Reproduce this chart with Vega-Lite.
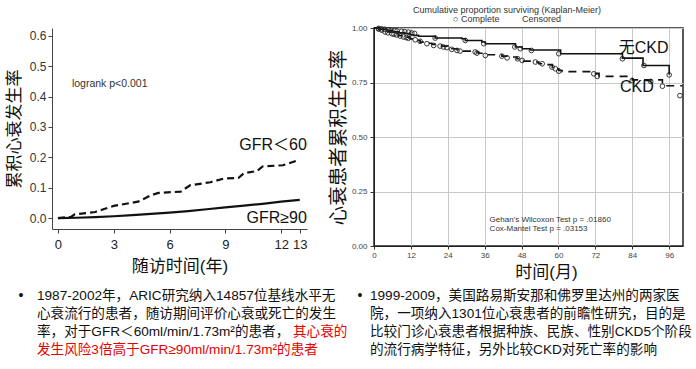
{
  "$schema": "https://vega.github.io/schema/vega-lite/v6.json",
  "background": "white",
  "padding": 5,
  "config": {
    "font": "Liberation Sans, Noto Sans CJK SC",
    "view": {"stroke": null},
    "axis": {"labelFont": "Liberation Sans, Noto Sans CJK SC", "titleFont": "Liberation Sans, Noto Sans CJK SC", "labelOverlap": false, "labelSeparation": 0}
  },
  "datasets": {
    "leftCurves": [
      {"group": "GFR<60", "year": 0, "rate": 0},
      {"group": "GFR<60", "year": 0.7, "rate": 0.004},
      {"group": "GFR<60", "year": 0.9, "rate": 0.012},
      {"group": "GFR<60", "year": 2.0, "rate": 0.02},
      {"group": "GFR<60", "year": 2.4, "rate": 0.028},
      {"group": "GFR<60", "year": 3.0, "rate": 0.04},
      {"group": "GFR<60", "year": 4.3, "rate": 0.054},
      {"group": "GFR<60", "year": 5.0, "rate": 0.075},
      {"group": "GFR<60", "year": 5.4, "rate": 0.083},
      {"group": "GFR<60", "year": 6.6, "rate": 0.087},
      {"group": "GFR<60", "year": 7.1, "rate": 0.108},
      {"group": "GFR<60", "year": 8.2, "rate": 0.118},
      {"group": "GFR<60", "year": 8.9, "rate": 0.13},
      {"group": "GFR<60", "year": 9.7, "rate": 0.132},
      {"group": "GFR<60", "year": 10.0, "rate": 0.148},
      {"group": "GFR<60", "year": 10.7, "rate": 0.155},
      {"group": "GFR<60", "year": 11.0, "rate": 0.17},
      {"group": "GFR<60", "year": 12.1, "rate": 0.174},
      {"group": "GFR<60", "year": 12.9, "rate": 0.19},
      {"group": "GFR≥90", "year": 0, "rate": 0},
      {"group": "GFR≥90", "year": 1, "rate": 0.001},
      {"group": "GFR≥90", "year": 2, "rate": 0.003},
      {"group": "GFR≥90", "year": 3, "rate": 0.006},
      {"group": "GFR≥90", "year": 4, "rate": 0.01},
      {"group": "GFR≥90", "year": 5, "rate": 0.014},
      {"group": "GFR≥90", "year": 6, "rate": 0.018},
      {"group": "GFR≥90", "year": 7, "rate": 0.023},
      {"group": "GFR≥90", "year": 8, "rate": 0.029},
      {"group": "GFR≥90", "year": 9, "rate": 0.035},
      {"group": "GFR≥90", "year": 10, "rate": 0.041},
      {"group": "GFR≥90", "year": 11, "rate": 0.047},
      {"group": "GFR≥90", "year": 12, "rate": 0.054},
      {"group": "GFR≥90", "year": 13, "rate": 0.06}
    ],
    "leftLabels": [
      {"kind": "note", "year": 0.75, "rate": 0.44, "label": "logrank p<0.001"},
      {"kind": "series", "year": 13.38, "rate": 0.24, "label": "GFR＜60"},
      {"kind": "series", "year": 13.38, "rate": 0.0, "label": "GFR≥90"}
    ],
    "rightCurves": [
      {"group": "无CKD", "month": 0, "surv": 1.0},
      {"group": "无CKD", "month": 2, "surv": 0.995},
      {"group": "无CKD", "month": 4, "surv": 0.99},
      {"group": "无CKD", "month": 6, "surv": 0.982},
      {"group": "无CKD", "month": 8, "surv": 0.978},
      {"group": "无CKD", "month": 10, "surv": 0.975},
      {"group": "无CKD", "month": 11.7, "surv": 0.969},
      {"group": "无CKD", "month": 12.8, "surv": 0.966},
      {"group": "无CKD", "month": 14.5, "surv": 0.962},
      {"group": "无CKD", "month": 19.9, "surv": 0.954},
      {"group": "无CKD", "month": 28.6, "surv": 0.951},
      {"group": "无CKD", "month": 29.7, "surv": 0.943},
      {"group": "无CKD", "month": 35.1, "surv": 0.936},
      {"group": "无CKD", "month": 36.2, "surv": 0.928},
      {"group": "无CKD", "month": 46.0, "surv": 0.913},
      {"group": "无CKD", "month": 48.2, "surv": 0.905},
      {"group": "无CKD", "month": 50.9, "surv": 0.899},
      {"group": "无CKD", "month": 60.7, "surv": 0.882},
      {"group": "无CKD", "month": 80.8, "surv": 0.862},
      {"group": "无CKD", "month": 87.5, "surv": 0.828},
      {"group": "无CKD", "month": 96.0, "surv": 0.785},
      {"group": "CKD", "month": 0, "surv": 1.0},
      {"group": "CKD", "month": 1.5, "surv": 0.995},
      {"group": "CKD", "month": 3, "surv": 0.99},
      {"group": "CKD", "month": 4.5, "surv": 0.982},
      {"group": "CKD", "month": 6, "surv": 0.975},
      {"group": "CKD", "month": 7.9, "surv": 0.965},
      {"group": "CKD", "month": 9.5, "surv": 0.958},
      {"group": "CKD", "month": 11.7, "surv": 0.95},
      {"group": "CKD", "month": 13.5, "surv": 0.943},
      {"group": "CKD", "month": 15, "surv": 0.935},
      {"group": "CKD", "month": 17, "surv": 0.93},
      {"group": "CKD", "month": 18.8, "surv": 0.925},
      {"group": "CKD", "month": 22, "surv": 0.917},
      {"group": "CKD", "month": 24, "surv": 0.912},
      {"group": "CKD", "month": 25.3, "surv": 0.905},
      {"group": "CKD", "month": 27, "surv": 0.9},
      {"group": "CKD", "month": 28.6, "surv": 0.894},
      {"group": "CKD", "month": 32.4, "surv": 0.89},
      {"group": "CKD", "month": 34, "surv": 0.884},
      {"group": "CKD", "month": 36.2, "surv": 0.877},
      {"group": "CKD", "month": 41.6, "surv": 0.871},
      {"group": "CKD", "month": 43.3, "surv": 0.867},
      {"group": "CKD", "month": 46.5, "surv": 0.859},
      {"group": "CKD", "month": 47.5, "surv": 0.853},
      {"group": "CKD", "month": 48.7, "surv": 0.848},
      {"group": "CKD", "month": 52.5, "surv": 0.844},
      {"group": "CKD", "month": 53.6, "surv": 0.836},
      {"group": "CKD", "month": 55.8, "surv": 0.832},
      {"group": "CKD", "month": 58, "surv": 0.82},
      {"group": "CKD", "month": 59, "surv": 0.813},
      {"group": "CKD", "month": 60.1, "surv": 0.805},
      {"group": "CKD", "month": 61.2, "surv": 0.8},
      {"group": "CKD", "month": 71.5, "surv": 0.792},
      {"group": "CKD", "month": 73.2, "surv": 0.778},
      {"group": "CKD", "month": 84, "surv": 0.762},
      {"group": "CKD", "month": 93.8, "surv": 0.735},
      {"group": "CKD", "month": 100.3, "surv": 0.735}
    ],
    "rightPoints": [
      {"group": "无CKD", "month": 1.5, "surv": 0.998},
      {"group": "无CKD", "month": 2.5, "surv": 0.996},
      {"group": "无CKD", "month": 3.5, "surv": 0.994},
      {"group": "无CKD", "month": 4.7, "surv": 0.992},
      {"group": "无CKD", "month": 5.5, "surv": 0.99},
      {"group": "无CKD", "month": 6.8, "surv": 0.989},
      {"group": "无CKD", "month": 7.5, "surv": 0.987},
      {"group": "无CKD", "month": 9.0, "surv": 0.985},
      {"group": "无CKD", "month": 10.0, "surv": 0.983},
      {"group": "无CKD", "month": 11.2, "surv": 0.981},
      {"group": "无CKD", "month": 12.3, "surv": 0.977},
      {"group": "无CKD", "month": 13.2, "surv": 0.975},
      {"group": "无CKD", "month": 19.9, "surv": 0.954},
      {"group": "无CKD", "month": 29.7, "surv": 0.943},
      {"group": "无CKD", "month": 35.7, "surv": 0.928},
      {"group": "无CKD", "month": 45.8, "surv": 0.913},
      {"group": "无CKD", "month": 47.6, "surv": 0.905},
      {"group": "无CKD", "month": 51.2, "surv": 0.897},
      {"group": "无CKD", "month": 60.1, "surv": 0.882},
      {"group": "无CKD", "month": 80.8, "surv": 0.859},
      {"group": "无CKD", "month": 87.8, "surv": 0.828},
      {"group": "无CKD", "month": 96.0, "surv": 0.785},
      {"group": "CKD", "month": 1.5, "surv": 0.995},
      {"group": "CKD", "month": 2.5, "surv": 0.99},
      {"group": "CKD", "month": 3.6, "surv": 0.982},
      {"group": "CKD", "month": 4.5, "surv": 0.978},
      {"group": "CKD", "month": 5.8, "surv": 0.974},
      {"group": "CKD", "month": 6.5, "surv": 0.971},
      {"group": "CKD", "month": 7.4, "surv": 0.968},
      {"group": "CKD", "month": 8.5, "surv": 0.963},
      {"group": "CKD", "month": 9.6, "surv": 0.959},
      {"group": "CKD", "month": 10.5, "surv": 0.956},
      {"group": "CKD", "month": 11.2, "surv": 0.953},
      {"group": "CKD", "month": 13.4, "surv": 0.946},
      {"group": "CKD", "month": 15.0, "surv": 0.939},
      {"group": "CKD", "month": 17.2, "surv": 0.928},
      {"group": "CKD", "month": 19.4, "surv": 0.92},
      {"group": "CKD", "month": 21.5, "surv": 0.917},
      {"group": "CKD", "month": 22.6, "surv": 0.913},
      {"group": "CKD", "month": 23.7, "surv": 0.91},
      {"group": "CKD", "month": 25.3, "surv": 0.902},
      {"group": "CKD", "month": 27.0, "surv": 0.897},
      {"group": "CKD", "month": 28.0, "surv": 0.894},
      {"group": "CKD", "month": 32.9, "surv": 0.89},
      {"group": "CKD", "month": 33.5, "surv": 0.885},
      {"group": "CKD", "month": 36.2, "surv": 0.874},
      {"group": "CKD", "month": 41.6, "surv": 0.871},
      {"group": "CKD", "month": 43.3, "surv": 0.863},
      {"group": "CKD", "month": 46.7, "surv": 0.859},
      {"group": "CKD", "month": 48.2, "surv": 0.851},
      {"group": "CKD", "month": 52.5, "surv": 0.844},
      {"group": "CKD", "month": 54.7, "surv": 0.836},
      {"group": "CKD", "month": 57.9, "surv": 0.821},
      {"group": "CKD", "month": 59.0, "surv": 0.813},
      {"group": "CKD", "month": 60.1, "surv": 0.802},
      {"group": "CKD", "month": 71.5, "surv": 0.79},
      {"group": "CKD", "month": 72.6, "surv": 0.778},
      {"group": "CKD", "month": 84.0, "surv": 0.759},
      {"group": "CKD", "month": 90.0, "surv": 0.755},
      {"group": "CKD", "month": 93.8, "surv": 0.733},
      {"group": "CKD", "month": 99.5, "surv": 0.69}
    ],
    "rightLabels": [
      {"kind": "series", "month": 79.6, "surv": 0.908, "label": "无CKD"},
      {"kind": "series", "month": 80.0, "surv": 0.729, "label": "CKD"},
      {"kind": "test", "month": 37.6, "surv": 0.118, "label": "Gehan's Wilcoxon Test p = .01860"},
      {"kind": "test", "month": 37.6, "surv": 0.08, "label": "Cox-Mantel Test p = .03153"}
    ],
    "leftNotes": [
      {"line": 1, "anchor": "start", "tone": "plain", "text": "1987-2002年，ARIC研究纳入14857位基线水平无"},
      {"line": 2, "anchor": "start", "tone": "plain", "text": "心衰流行的患者，随访期间评价心衰或死亡的发生"},
      {"line": 3, "anchor": "start", "tone": "plain", "text": "率，对于GFR＜60ml/min/1.73m²的患者，"},
      {"line": 3, "anchor": "emphasis", "tone": "emphasis", "text": "其心衰的"},
      {"line": 4, "anchor": "start", "tone": "emphasis", "text": "发生风险3倍高于GFR≥90ml/min/1.73m²的患者"}
    ],
    "rightNotes": [
      {"line": 1, "anchor": "start", "tone": "plain", "text": "1999-2009，美国路易斯安那和佛罗里达州的两家医"},
      {"line": 2, "anchor": "start", "tone": "plain", "text": "院，一项纳入1301位心衰患者的前瞻性研究，目的是"},
      {"line": 3, "anchor": "start", "tone": "plain", "text": "比较门诊心衰患者根据种族、民族、性别CKD5个阶段"},
      {"line": 4, "anchor": "start", "tone": "plain", "text": "的流行病学特征，另外比较CKD对死亡率的影响"}
    ]
  },
  "vconcat": [
    {
      "hconcat": [
        {
          "width": 255,
          "height": 201,
          "encoding": {
            "x": {"field": "year", "type": "quantitative",
              "scale": {"domain": [-0.32, 13.39], "nice": false, "zero": false},
              "axis": {"values": [0, 3, 6, 9, 12, 13], "title": "随访时间(年)", "titleFontSize": 17, "titleFontWeight": "normal", "titleColor": "#111", "labelFontSize": 13, "labelColor": "#222", "tickSize": 4, "labelPadding": 5, "titlePadding": 7, "grid": false, "domainColor": "#444", "tickColor": "#444", "labelFlush": false, "labelOverlap": false}},
            "y": {"field": "rate", "type": "quantitative",
              "scale": {"domain": [-0.036, 0.626], "nice": false, "zero": false},
              "axis": {"values": [0, 0.1, 0.2, 0.3, 0.4, 0.5, 0.6], "format": ".1f", "title": "累积心衰发生率", "titleFontSize": 17, "titleFontWeight": "normal", "titleColor": "#111", "labelFontSize": 12, "labelColor": "#333", "tickSize": 4, "labelPadding": 2, "titlePadding": 6, "grid": false, "domainColor": "#444", "tickColor": "#444", "labelOverlap": false}}
          },
          "layer": [
            {
              "data": {"name": "leftCurves"},
              "transform": [{"filter": "datum.group == 'GFR≥90'"}],
              "mark": {"type": "line", "color": "#111", "strokeWidth": 2.2}
            },
            {
              "data": {"name": "leftCurves"},
              "transform": [{"filter": "datum.group == 'GFR<60'"}],
              "mark": {"type": "line", "color": "#111", "strokeWidth": 2.2, "strokeDash": [7, 4]}
            },
            {
              "data": {"name": "leftLabels"},
              "transform": [{"filter": "datum.kind == 'note'"}],
              "mark": {"type": "text", "align": "left", "baseline": "middle", "fontSize": 10.5, "color": "#333"},
              "encoding": {"text": {"field": "label"}}
            },
            {
              "data": {"name": "leftLabels"},
              "transform": [{"filter": "datum.kind == 'series'"}],
              "mark": {"type": "text", "align": "right", "baseline": "middle", "fontSize": 16, "color": "#111"},
              "encoding": {"text": {"field": "label"}}
            }
          ]
        },
        {
          "width": 309,
          "height": 218,
          "view": {"stroke": "#222", "strokeWidth": 1.5},
          "title": {"text": "Cumulative proportion surviving (Kaplan-Meier)", "subtitle": "○ Complete\u00a0\u00a0\u00a0\u00a0\u00a0\u00a0\u00a0\u00a0\u00a0Censored", "fontSize": 9, "subtitleFontSize": 9, "fontWeight": "normal", "color": "#333", "subtitleColor": "#333", "anchor": "middle", "frame": "bounds", "offset": 0, "subtitlePadding": 0},
          "encoding": {
            "x": {"field": "month", "type": "quantitative",
              "scale": {"domain": [0, 100.5], "nice": false, "zero": false},
              "axis": {"values": [0, 12, 24, 36, 48, 60, 72, 84, 96], "title": "时间(月)", "titleFontSize": 17, "titleFontWeight": "normal", "titleColor": "#111", "titleX": 172, "labelFontSize": 8, "labelColor": "#444", "tickSize": 3, "labelPadding": 2, "titlePadding": 5, "grid": true, "gridColor": "#c8c8c8", "domainColor": "#222", "tickColor": "#333", "labelFlush": false, "labelOverlap": false, "labelSeparation": 0}},
            "y": {"field": "surv", "type": "quantitative",
              "scale": {"domain": [0, 1], "nice": false, "zero": false},
              "axis": {"values": [0, 0.25, 0.5, 0.75, 1], "format": ".2f", "title": "心衰患者累积生存率", "titleFontSize": 19.5, "titleFontWeight": "normal", "titleColor": "#111", "labelFontSize": 8, "labelColor": "#444", "tickSize": 4, "labelPadding": 3, "titlePadding": 3, "grid": true, "gridColor": "#c8c8c8", "domainColor": "#222", "tickColor": "#333", "labelFlush": false, "labelOverlap": false}}
          },
          "layer": [
            {
              "data": {"name": "rightCurves"},
              "transform": [{"filter": "datum.group == '无CKD'"}],
              "mark": {"type": "line", "interpolate": "step-after", "color": "#111", "strokeWidth": 1.6}
            },
            {
              "data": {"name": "rightCurves"},
              "transform": [{"filter": "datum.group == 'CKD'"}],
              "mark": {"type": "line", "interpolate": "step-after", "color": "#111", "strokeWidth": 1.6, "strokeDash": [8, 6]}
            },
            {
              "data": {"name": "rightPoints"},
              "mark": {"type": "point", "filled": false, "color": "#222", "size": 22, "strokeWidth": 0.9, "opacity": 1}
            },
            {
              "data": {"name": "rightLabels"},
              "transform": [{"filter": "datum.kind == 'series'"}],
              "mark": {"type": "text", "align": "left", "baseline": "middle", "fontSize": 16, "color": "#111"},
              "encoding": {"text": {"field": "label"}}
            },
            {
              "data": {"name": "rightLabels"},
              "transform": [{"filter": "datum.kind == 'test'"}],
              "mark": {"type": "text", "align": "left", "baseline": "middle", "fontSize": 8, "color": "#333"},
              "encoding": {"text": {"field": "label"}}
            }
          ]
        }
      ],
      "spacing": 20
    },
    {
      "hconcat": [
        {
          "width": 305,
          "height": 72,
          "data": {"name": "leftNotes"},
          "encoding": {
            "x": {"field": "anchor", "type": "nominal", "scale": {"type": "point", "domain": ["start", "emphasis"], "range": [-15, 241], "padding": 0}, "axis": null},
            "y": {"field": "line", "type": "ordinal", "scale": {"type": "point", "domain": [1, 2, 3, 4], "padding": 0.5}, "axis": null}
          },
          "layer": [
            {
              "transform": [{"filter": "datum.tone == 'plain'"}],
              "mark": {"type": "text", "align": "left", "baseline": "middle", "fontSize": 13.6, "color": "#111"},
              "encoding": {"text": {"field": "text"}}
            },
            {
              "transform": [{"filter": "datum.tone == 'emphasis'"}],
              "mark": {"type": "text", "align": "left", "baseline": "middle", "fontSize": 13.6, "color": "#e60000"},
              "encoding": {"text": {"field": "text"}}
            },
            {
              "transform": [{"filter": "datum.line == 1"}],
              "mark": {"type": "text", "align": "center", "baseline": "middle", "fontSize": 14, "color": "#111", "dx": -16, "text": "•"}
            }
          ]
        },
        {
          "width": 330,
          "height": 72,
          "data": {"name": "rightNotes"},
          "encoding": {
            "x": {"field": "anchor", "type": "nominal", "scale": {"type": "point", "domain": ["start", "end"], "range": [10, 320], "padding": 0}, "axis": null},
            "y": {"field": "line", "type": "ordinal", "scale": {"type": "point", "domain": [1, 2, 3, 4], "padding": 0.5}, "axis": null}
          },
          "layer": [
            {
              "mark": {"type": "text", "align": "left", "baseline": "middle", "fontSize": 13.6, "color": "#111"},
              "encoding": {"text": {"field": "text"}}
            },
            {
              "transform": [{"filter": "datum.line == 1"}],
              "mark": {"type": "text", "align": "center", "baseline": "middle", "fontSize": 14, "color": "#111", "dx": -10, "text": "•"}
            }
          ]
        }
      ],
      "spacing": 0
    }
  ],
  "spacing": 6
}
